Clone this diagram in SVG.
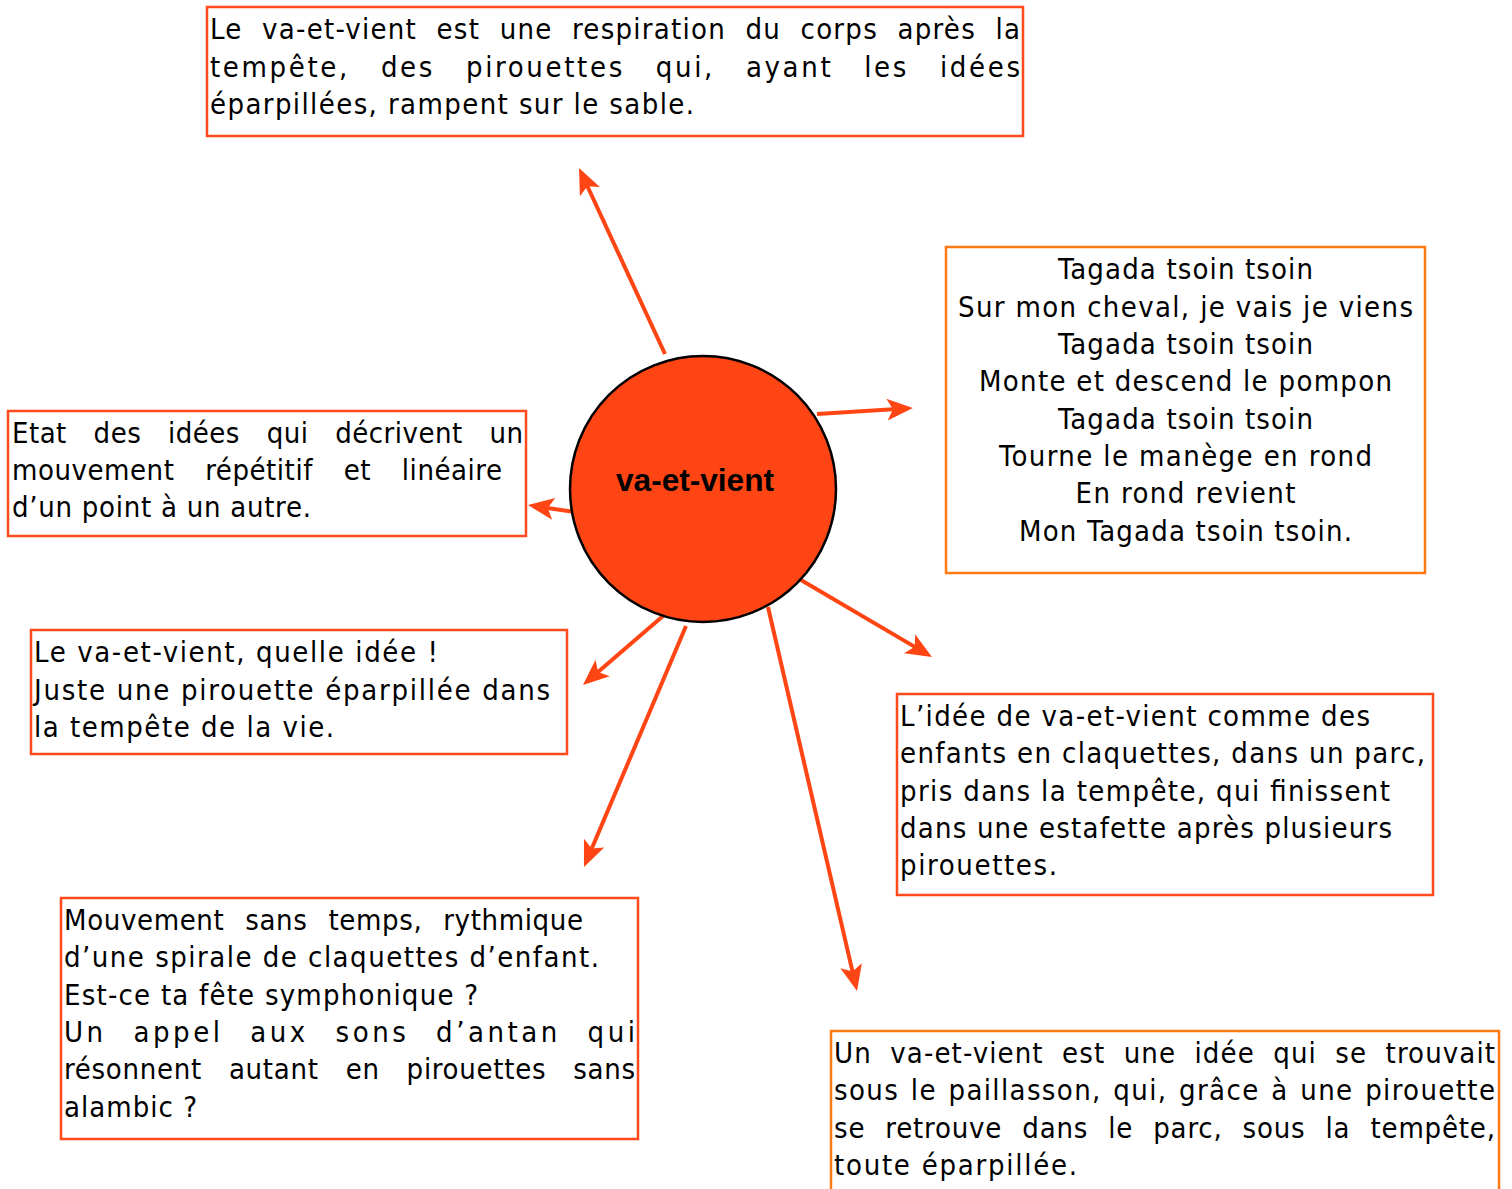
<svg xmlns="http://www.w3.org/2000/svg" width="1512" height="1189" viewBox="0 0 1512 1189">
<style>
.box{fill:#fff;stroke:#FF4A1C;stroke-width:2.5}
.box2{fill:#fff;stroke:#FF7A14;stroke-width:2.5}
.t{font-family:"DejaVu Sans Condensed","Noto Sans",sans-serif;font-size:29px;fill:#000}
.c{text-anchor:middle}
.lbl{font-family:"Liberation Sans",Arial,sans-serif;font-weight:bold;font-size:31px;fill:#000;text-anchor:middle}
.arr{stroke:#FF4513;stroke-width:4;fill:none;marker-end:url(#ah)}
</style>
<defs>
<marker id="ah" markerUnits="userSpaceOnUse" orient="auto" refX="0" refY="0" markerWidth="40" markerHeight="40" overflow="visible">
<path d="M16,0 L-10,-11 L-4,0 L-10,11 Z" fill="#FF4513"/>
</marker>
</defs>
<rect width="1512" height="1189" fill="#fff"/>
<g id="connectors">
<line class="arr" x1="665" y1="354" x2="585.7" y2="182.5"/>
<line class="arr" x1="817" y1="414" x2="897" y2="409"/>
<line class="arr" x1="575" y1="512" x2="543.8" y2="507.4"/>
<line class="arr" x1="663" y1="616" x2="595.1" y2="674.5"/>
<line class="arr" x1="686" y1="626" x2="590.2" y2="852.3"/>
<line class="arr" x1="768" y1="607" x2="853.4" y2="975.4"/>
<line class="arr" x1="801" y1="580" x2="918.2" y2="648.9"/>
</g>
<g id="center">
<circle cx="703" cy="489" r="133" fill="#FF4513" stroke="#000" stroke-width="2.5"/>
<text class="lbl" x="695" y="491" textLength="158" lengthAdjust="spacingAndGlyphs">va-et-vient</text>
</g>
<g id="n-top">
<rect class="box" x="207" y="7" width="816" height="129"/>
<text class="t" x="210" y="39" textLength="810" lengthAdjust="spacing" word-spacing="10">Le va-et-vient est une respiration du corps après la</text>
<text class="t" x="210" y="77" textLength="810" lengthAdjust="spacing" word-spacing="20">tempête, des pirouettes qui, ayant les idées</text>
<text class="t" x="210" y="114" textLength="484" lengthAdjust="spacing">éparpillées, rampent sur le sable.</text>
</g>
<g id="n-tagada">
<rect class="box2" x="946" y="247" width="479" height="326"/>
<text class="t c" x="1185.5" y="279" textLength="255" lengthAdjust="spacing">Tagada tsoin tsoin</text>
<text class="t c" x="1185.5" y="317" textLength="455" lengthAdjust="spacing">Sur mon cheval, je vais je viens</text>
<text class="t c" x="1185.5" y="354" textLength="255" lengthAdjust="spacing">Tagada tsoin tsoin</text>
<text class="t c" x="1185.5" y="391" textLength="413" lengthAdjust="spacing">Monte et descend le pompon</text>
<text class="t c" x="1185.5" y="429" textLength="255" lengthAdjust="spacing">Tagada tsoin tsoin</text>
<text class="t c" x="1185.5" y="466" textLength="373" lengthAdjust="spacing">Tourne le manège en rond</text>
<text class="t c" x="1185.5" y="503" textLength="220" lengthAdjust="spacing">En rond revient</text>
<text class="t c" x="1185.5" y="541" textLength="333" lengthAdjust="spacing">Mon Tagada tsoin tsoin.</text>
</g>
<g id="n-etat">
<rect class="box" x="8" y="411" width="518" height="125"/>
<text class="t" x="12" y="443" textLength="511" lengthAdjust="spacing" word-spacing="18">Etat des idées qui décrivent un</text>
<text class="t" x="12" y="480" textLength="490" lengthAdjust="spacing" word-spacing="22">mouvement répétitif et linéaire</text>
<text class="t" x="12" y="517" textLength="299" lengthAdjust="spacing">d’un point à un autre.</text>
</g>
<g id="n-quelle">
<rect class="box" x="31" y="630" width="536" height="124"/>
<text class="t" x="34" y="662" textLength="404" lengthAdjust="spacing">Le va-et-vient, quelle idée !</text>
<text class="t" x="34" y="700" textLength="516" lengthAdjust="spacing">Juste une pirouette éparpillée dans</text>
<text class="t" x="34" y="737" textLength="300" lengthAdjust="spacing">la tempête de la vie.</text>
</g>
<g id="n-lidee">
<rect class="box" x="897" y="694" width="536" height="201"/>
<text class="t" x="900" y="726" textLength="470" lengthAdjust="spacing">L’idée de va-et-vient comme des</text>
<text class="t" x="900" y="763" textLength="525" lengthAdjust="spacing">enfants en claquettes, dans un parc,</text>
<text class="t" x="900" y="801" textLength="490" lengthAdjust="spacing">pris dans la tempête, qui finissent</text>
<text class="t" x="900" y="838" textLength="492" lengthAdjust="spacing">dans une estafette après plusieurs</text>
<text class="t" x="900" y="875" textLength="157" lengthAdjust="spacing">pirouettes.</text>
</g>
<g id="n-mouvement">
<rect class="box" x="61" y="898" width="577" height="241"/>
<text class="t" x="64" y="930" textLength="519" lengthAdjust="spacing" word-spacing="12">Mouvement sans temps, rythmique</text>
<text class="t" x="64" y="967" textLength="535" lengthAdjust="spacing">d’une spirale de claquettes d’enfant.</text>
<text class="t" x="64" y="1005" textLength="414" lengthAdjust="spacing">Est-ce ta fête symphonique ?</text>
<text class="t" x="64" y="1042" textLength="571" lengthAdjust="spacing" word-spacing="15">Un appel aux sons d’antan qui</text>
<text class="t" x="64" y="1079" textLength="571" lengthAdjust="spacing" word-spacing="18">résonnent autant en pirouettes sans</text>
<text class="t" x="64" y="1117" textLength="133" lengthAdjust="spacing">alambic ?</text>
</g>
<g id="n-bottom">
<rect class="box2" x="831" y="1031" width="668" height="170"/>
<text class="t" x="834" y="1063" textLength="661" lengthAdjust="spacing" word-spacing="9">Un va-et-vient est une idée qui se trouvait</text>
<text class="t" x="834" y="1100" textLength="661" lengthAdjust="spacing" word-spacing="2">sous le paillasson, qui, grâce à une pirouette</text>
<text class="t" x="834" y="1138" textLength="661" lengthAdjust="spacing" word-spacing="11">se retrouve dans le parc, sous la tempête,</text>
<text class="t" x="834" y="1175" textLength="243" lengthAdjust="spacing">toute éparpillée.</text>
</g>
</svg>
